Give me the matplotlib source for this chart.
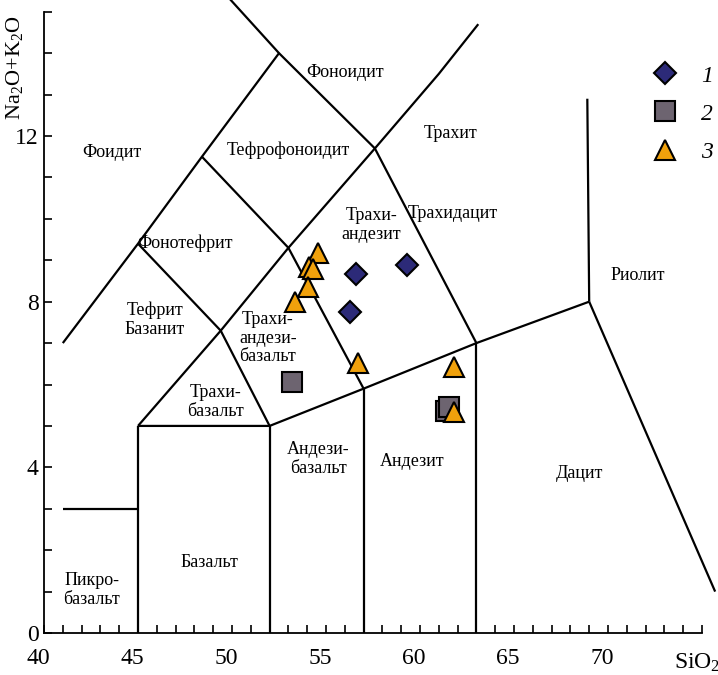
import numpy as np
import matplotlib
matplotlib.use("Agg")
import matplotlib.pyplot as plt
from matplotlib.ticker import MultipleLocator, FixedLocator
from matplotlib.transforms import ScaledTranslation

plt.rcParams['font.family'] = ['Liberation Serif', 'DejaVu Serif']
plt.rcParams['mathtext.fontset'] = 'custom'
plt.rcParams['mathtext.rm'] = 'Liberation Serif'
plt.rcParams['mathtext.it'] = 'Liberation Serif:italic'

# samples: SiO2, Na2O+K2O
sio2_1 = [56.6, 59.3, 56.3]
alk_1 = [8.67, 8.88, 7.76]

sio2_2 = [53.2, 61.4, 61.55]
alk_2 = [6.07, 5.37, 5.45]

sio2_3 = [54.57, 54.11, 54.32, 54.06, 53.35, 56.7, 61.82, 61.82]
alk_3 = [9.18, 8.84, 8.80, 8.35, 8.00, 6.51, 6.43, 5.34]

legend_labels = ['1', '2', '3']

# TAS field boundaries (Le Bas et al.)
tas_lines = [
    [(41, 3), (45, 3)],
    [(45, 0), (45, 5)],
    [(45, 5), (52, 5), (57, 5.9), (63, 7), (69, 8)],
    [(52, 0), (52, 5)],
    [(57, 0), (57, 5.9)],
    [(63, 0), (63, 7)],
    [(69, 8), (68.9, 12.9)],
    [(69, 8), (75.7, 1.0)],
    [(45, 5), (49.4, 7.3), (53, 9.3), (57.6, 11.7), (61, 13.5), (63.1, 14.7)],
    [(41, 7), (45, 9.4), (48.4, 11.5), (52.5, 14), (49.9, 15.3)],
    [(52.5, 14), (57.6, 11.7)],
    [(45, 9.4), (49.4, 7.3)],
    [(48.4, 11.5), (53, 9.3)],
    [(49.4, 7.3), (52, 5)],
    [(53, 9.3), (57, 5.9)],
    [(57.6, 11.7), (63, 7)],
]

field_names = ['Фоноидит', 'Трахит', 'Фоидит', 'Тефрофоноидит', 'Трахи-\nандезит',
               'Трахидацит', 'Фонотефрит', 'Риолит', 'Трахи-\nандези-\nбазальт',
               'Тефрит\nБазанит', 'Трахи-\nбазальт', 'Андезит', 'Андези-\nбазальт',
               'Дацит', 'Базальт', 'Пикро-\nбазальт']
field_x = [56.0, 61.6, 43.6, 53.0, 57.4, 61.75, 47.5, 71.6, 51.9, 45.9, 49.1, 59.6, 54.6, 68.5, 48.8, 42.55]
field_y = [13.54, 12.07, 11.59, 11.66, 9.85, 10.14, 9.42, 8.64, 7.12, 7.56, 5.58, 4.13, 4.2, 3.86, 1.71, 1.04]

fig = plt.figure(figsize=(7.18, 6.75), dpi=100)
ax = fig.add_axes([0.0613, 0.0622, 0.9164, 0.9204])

for seg in tas_lines:
    xs, ys = zip(*seg)
    ax.plot(xs, ys, color='black', lw=1.6, clip_on=False, solid_capstyle='butt')

for name, x, y in zip(field_names, field_x, field_y):
    ax.text(x, y, name, ha='center', va='center', fontsize=13, linespacing=1.1)

h1, = ax.plot(sio2_1, alk_1, 'D', ms=11, mfc='#2c2a78', mec='black', mew=1.5, ls='none')
h2, = ax.plot(sio2_2, alk_2, 's', ms=15, mfc='#6d6470', mec='black', mew=1.5, ls='none')
h3, = ax.plot(sio2_3, alk_3, '^', ms=15, mfc='#f0a10c', mec='black', mew=1.5, ls='none')

ax.legend([h1, h2, h3], legend_labels, loc='upper left', bbox_to_anchor=(0.905, 0.933),
          frameon=False, borderpad=0, handlelength=1.2, handletextpad=0.9,
          labelspacing=0.7, prop={'style': 'italic', 'size': 17})

ax.set_xlim(40, 75)
ax.set_ylim(0, 15)
ax.spines['top'].set_visible(False)
ax.spines['right'].set_visible(False)
ax.spines['left'].set_linewidth(1.3)
ax.spines['bottom'].set_linewidth(1.3)

ax.xaxis.set_major_locator(FixedLocator(range(40, 75, 5)))
ax.xaxis.set_minor_locator(MultipleLocator(1))
ax.yaxis.set_major_locator(FixedLocator([0, 4, 8, 12]))
ax.yaxis.set_minor_locator(MultipleLocator(1))
ax.tick_params(which='both', direction='in', length=6, width=1.2, labelsize=17)
ax.tick_params(axis='x', pad=11)
ax.tick_params(axis='y', pad=4)

shift = ScaledTranslation(-6 / 100, 0, fig.dpi_scale_trans)
for lab in ax.get_xticklabels():
    lab.set_transform(lab.get_transform() + shift)

ax.text(73.5, -0.45, 'SiO$_2$', ha='left', va='top', fontsize=17, clip_on=False)
ax.text(-0.045, 0.995, 'Na$_2$O+K$_2$O', transform=ax.transAxes, rotation=90,
        ha='center', va='top', fontsize=16)

fig.savefig('out.png', dpi=100, facecolor='white')
